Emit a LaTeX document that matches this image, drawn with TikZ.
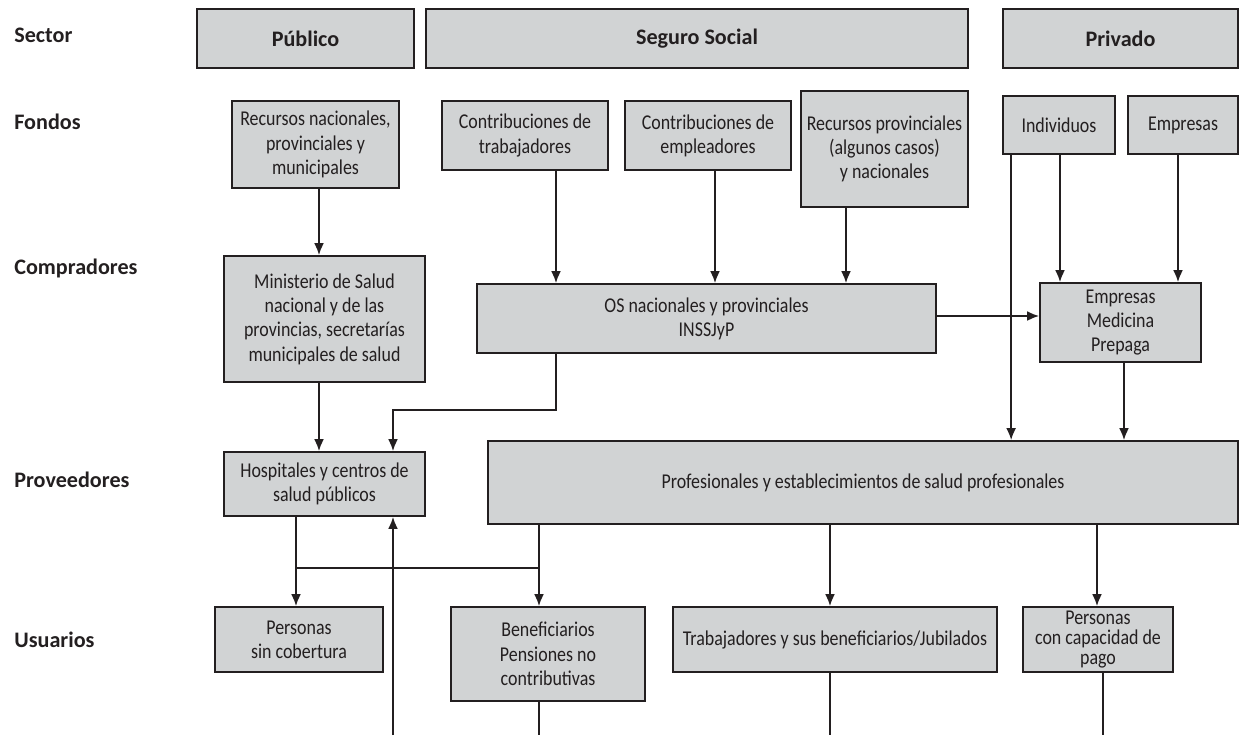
\documentclass[tikz,border=0pt]{standalone}
\usepackage{fontspec}
\setmainfont{Carlito}[FakeStretch = 0.85]
\newfontfamily\headfont{Carlito}
\usetikzlibrary{arrows.meta, calc}

\definecolor{boxgray}{RGB}{209,211,212}
\definecolor{inkgray}{RGB}{35,31,32}

\def\pxl{0.02cm}

\begin{document}
\begin{tikzpicture}[x = \pxl, y = -\pxl, > = {Latex[length = 6.8pt, width = 5.6pt]},
	box/.style = {draw = inkgray, fill = boxgray, line width = 1pt, text = inkgray, align = center, inner sep = 1pt, font = \fontsize{12}{13.8}\selectfont},
	boxsize/.style 2 args = {minimum width = #1*\pxl, minimum height = #2*\pxl},
	head/.style = {box, font = \fontsize{12.6}{14}\headfont\bfseries},
	rowlabel/.style = {anchor = west, inner sep = 0pt, text = inkgray, font = \fontsize{12.6}{14}\headfont\bfseries},
	flow/.style = {->, draw = inkgray, line width = 1pt},
	link/.style = {draw = inkgray, line width = 1pt}]

	% Page size
	
	\useasboundingbox (0, 0) rectangle (1241, 735);

	% Row labels
	
	\node [rowlabel] (lsector) at (14, 35) {Sector};
	\node [rowlabel] (lfondos) at (14, 122) {Fondos};
	\node [rowlabel] (lcompradores) at (14, 268) {Compradores};
	\node [rowlabel] (lproveedores) at (14, 480) {Proveedores};
	\node [rowlabel] (lusuarios) at (14, 640) {Usuarios};
	
	% Sectors
	
	\node [head, boxsize = {217}{59}] (publico) at (305.5, 38.5) {Público};
	\node [head, boxsize = {542}{59}] (seguro) at (697, 38.5) {Seguro Social};
	\node [head, boxsize = {235}{59}] (privado) at (1120.5, 38.5) {Privado};
	
	% Fondos
	
	\node [box, boxsize = {167}{87}] (recnac) at (315.5, 144.5) {Recursos nacionales,\\provinciales y\\municipales};
	\node [box, boxsize = {166}{69}] (ctrab) at (525, 135.5) {Contribuciones de\\trabajadores};
	\node [box, boxsize = {166}{69}] (cempl) at (708, 135.5) {Contribuciones de\\empleadores};
	\node [box, boxsize = {167}{116}] (recprov) at (884.5, 149) {Recursos provinciales\\(algunos casos)\\y nacionales};
	\node [box, boxsize = {112}{58}] (individuos) at (1059, 125) {Individuos};
	\node [box, boxsize = {110}{58}] (empresas) at (1183, 125) {Empresas};
	
	% Compradores
	
	\node [box, boxsize = {201}{126}] (ministerio) at (324.5, 319) {Ministerio de Salud\\nacional y de las\\provincias, secretarías\\municipales de salud};
	\node [box, boxsize = {459}{69}] (os) at (706.5, 318.5) {OS nacionales y provinciales\\INSSJyP};
	\node [box, boxsize = {161}{79}] (prepaga) at (1120.5, 322.5) {Empresas\\Medicina\\Prepaga};
	
	% Proveedores
	
	\node [box, boxsize = {201}{64}] (hospitales) at (324.5, 484) {Hospitales y centros de\\salud públicos};
	\node [box, boxsize = {750}{83}] (prof) at (863, 482.5) {Profesionales y establecimientos de salud profesionales};
	
	% Usuarios
	
	\node [box, boxsize = {168}{65}] (sincob) at (299, 639.5) {Personas\\sin cobertura};
	\node [box, boxsize = {194}{94}] (benef) at (548, 654) {Beneficiarios\\Pensiones no\\contributivas};
	\node [box, boxsize = {324}{65}] (trab) at (835, 639.5) {Trabajadores y sus beneficiarios/Jubilados};
	\node [box, boxsize = {150}{65}, inner sep = 0pt, font = \fontsize{12}{11.2}\selectfont] (capac) at (1098, 639.5) {Personas\\con capacidad de\\pago};
	
	% Loose ends at the lower edge
	
	\coordinate (hospin) at (393, 735);
	\coordinate (benefout) at (539, 735);
	\coordinate (trabout) at (830, 735);
	\coordinate (capacout) at (1103, 735);
	
	% Fondos to compradores
	
	\draw [flow] ($(recnac.south) + (3.5, 0)$) -- ($(recnac.south |- ministerio.north) + (3.5, 0)$);
	\draw [flow] ($(ctrab.south) + (31, 0)$) -- ($(ctrab.south |- os.north) + (31, 0)$);
	\draw [flow] ($(cempl.south) + (7, 0)$) -- ($(cempl.south |- os.north) + (7, 0)$);
	\draw [flow] ($(recprov.south) + (-38.5, 0)$) -- ($(recprov.south |- os.north) + (-38.5, 0)$);
	\draw [flow] ($(individuos.south) + (1, 0)$) -- ($(individuos.south |- prepaga.north) + (1, 0)$);
	\draw [flow] ($(empresas.south) + (-5, 0)$) -- ($(empresas.south |- prepaga.north) + (-5, 0)$);
	\draw [flow] ($(os.east) + (0, -2.5)$) -- ($(os.east -| prepaga.west) + (0, -2.5)$);
	
	% Compradores to proveedores
	
	\draw [flow] ($(ministerio.south) + (-5.5, 0)$) -- ($(ministerio.south |- hospitales.north) + (-5.5, 0)$);
	\draw [flow] ($(os.south) + (-150.5, 0)$) -- ++(0, 56) -| ($(hospitales.north) + (68.5, 0)$);
	\draw [flow] ($(individuos.south west) + (9, 0)$) -- ($(individuos.south west |- prof.north) + (9, 0)$);
	\draw [flow] ($(prepaga.south) + (3.5, 0)$) -- ($(prepaga.south |- prof.north) + (3.5, 0)$);
	\draw [flow] (hospin) -- (hospin |- hospitales.south);
	
	% Proveedores to usuarios
	
	\draw [flow] ($(hospitales.south) + (-28.5, 0)$) -- ($(hospitales.south |- sincob.north) + (-28.5, 0)$);
	\draw [link] ($(hospitales.south) + (-28.5, 51)$) -- ($(prof.south) + (-324, 43)$);
	\draw [flow] (prof.south -| benefout) -- (benef.north -| benefout);
	\draw [flow] (prof.south -| trabout) -- (trab.north -| trabout);
	\draw [flow] ($(prof.south) + (234, 0)$) -- ($(prof.south |- capac.north) + (234, 0)$);
	
	% Usuarios to the lower edge
	
	\draw [link] (benef.south -| benefout) -- (benefout);
	\draw [link] (trab.south -| trabout) -- (trabout);
	\draw [link] (capac.south -| capacout) -- (capacout);
	
\end{tikzpicture}
\end{document}
